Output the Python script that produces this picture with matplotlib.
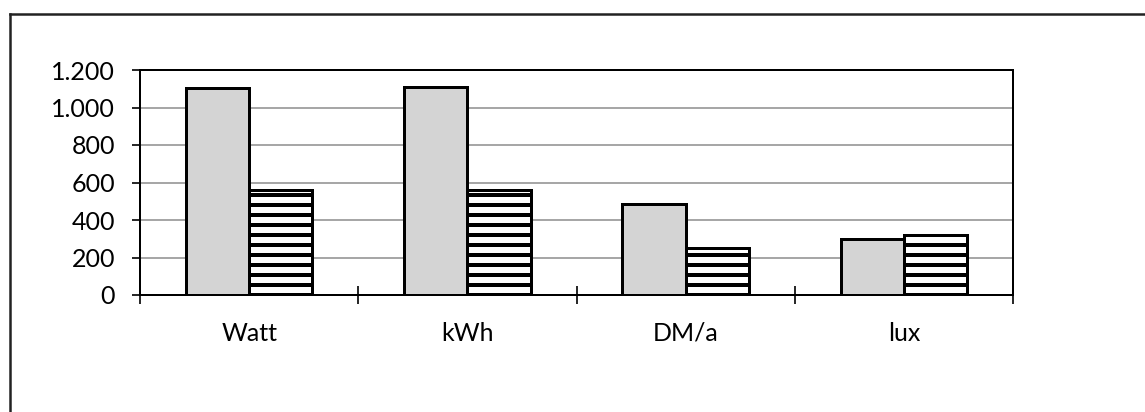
import matplotlib.pyplot as plt
from matplotlib.lines import Line2D
from matplotlib.ticker import FuncFormatter
import numpy as np

# values
categories = ["Watt", "kWh", "DM/a", "lux"]
series_gray = [1105, 1110, 485, 300]
series_striped = [560, 560, 250, 320]
y_ticks = [0, 200, 400, 600, 800, 1000, 1200]

DPI = 120
plt.rcParams['font.family'] = ['Lato', 'DejaVu Sans']
plt.rcParams['hatch.linewidth'] = 2.4


def fmt_thousands(value, pos):
    """
    German style thousands separator: 1.200
    """
    return f"{int(value):,}".replace(",", ".")


def main():
    fig = plt.figure(figsize=(1145 / DPI, 412 / DPI), dpi=DPI)
    ax = fig.add_axes([140 / 1145, 1 - 295 / 412,
                       (1013 - 140) / 1145, (295 - 70) / 412])

    x = np.arange(len(categories))
    width = 0.29
    ax.bar(x - width / 2, series_gray, width, color="#d4d4d4",
           edgecolor="black", linewidth=1.8, zorder=3)
    ax.bar(x + width / 2, series_striped, width, color="white",
           edgecolor="black", hatch="--", linewidth=1.8, zorder=3)

    ax.set_xlim(-0.5, len(categories) - 0.5)
    ax.set_ylim(0, 1200)
    ax.set_yticks(y_ticks)
    ax.yaxis.set_major_formatter(FuncFormatter(fmt_thousands))
    ax.yaxis.grid(True, color="#8a8a8a", linewidth=0.9, zorder=0)

    # category labels centred, tick marks at category boundaries
    ax.set_xticks(np.arange(-0.5, len(categories)), minor=False)
    ax.set_xticklabels([])
    ax.set_xticks(x, minor=True)
    ax.set_xticklabels(categories, minor=True, fontsize=15)
    ax.tick_params(axis="x", which="major", direction="inout",
                   length=11, width=1.0, color="black")
    ax.tick_params(axis="x", which="minor", length=0, pad=16)
    ax.tick_params(axis="y", direction="out", length=5, width=1.0,
                   labelsize=15, pad=10)

    for side in ["left", "right", "top", "bottom"]:
        ax.spines[side].set_color("black")
        ax.spines[side].set_linewidth(1.2)

    # outer frame of the chart object
    fig.add_artist(Line2D([10 / 1145, 1.0], [1 - 14 / 412, 1 - 14 / 412],
                          transform=fig.transFigure, color="#222222",
                          linewidth=1.5))
    fig.add_artist(Line2D([10 / 1145, 10 / 1145], [0.0, 1 - 14 / 412],
                          transform=fig.transFigure, color="#222222",
                          linewidth=1.5))

    fig.savefig("out.png", dpi=DPI)


if __name__ == '__main__':
    main()
